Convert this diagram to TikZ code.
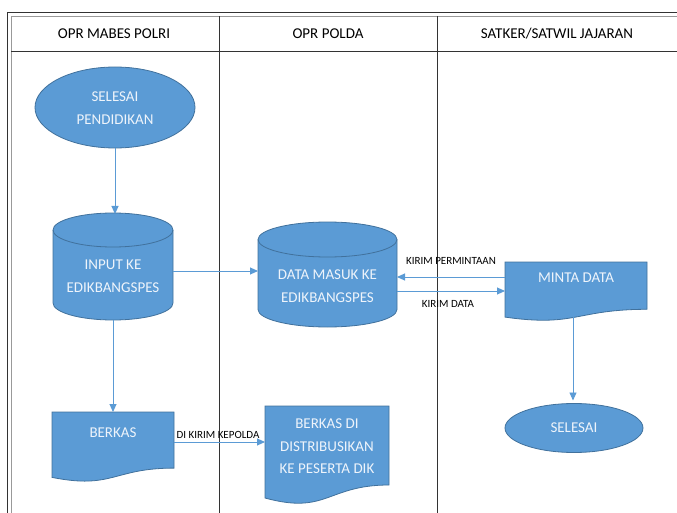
\documentclass[tikz,border=0pt]{standalone}
\usepackage{fontspec}
\setmainfont{Carlito}
\usetikzlibrary{arrows.meta}
\definecolor{nodefill}{HTML}{5B9BD5}
\definecolor{nodeline}{HTML}{41719C}
\definecolor{arrowcol}{HTML}{5B9BD5}
\definecolor{nodetext}{HTML}{EEF4FB}
\tikzset{
  shapefill/.style={fill=nodefill, draw=nodeline, line width=0.8pt},
  holder/.style={draw=none, inner sep=0pt, outer sep=0pt},
  inner/.style={text=nodetext, font=\fontsize{15}{22.5}\selectfont, align=center, inner sep=0pt},
  small/.style={font=\fontsize{11}{13}\selectfont, text=black, inner sep=0pt},
  header/.style={font=\fontsize{15}{18}\selectfont, text=black, inner sep=0pt},
  arr/.style={draw=arrowcol, line width=0.9pt, -{Triangle[length=8pt,width=7pt]}},
  tabline/.style={draw=black!80, line width=0.9pt},
  tabgray/.style={draw=black!40, line width=0.8pt}
}
\begin{document}
\begin{tikzpicture}[x=1pt,y=-1pt]
\useasboundingbox (0,0) rectangle (677,513);
% table
\draw[tabline] (7,513) -- (7,12) -- (677,12);
\draw[tabgray] (11,513) -- (11,16) -- (677,16);
\draw[tabline] (11,51) -- (677,51);
\draw[tabline] (219,16) -- (219,513);
\draw[tabline] (437,16) -- (437,513);
\node[header] (h1) at (114,34) {OPR MABES POLRI};
\node[header] (h2) at (328,34) {OPR POLDA};
\node[header] (h3) at (557,34) {SATKER/SATWIL JAJARAN};

% SELESAI PENDIDIKAN ellipse
\path[shapefill] (115,107.5) ellipse [x radius=80pt, y radius=40.5pt];
\node[holder, minimum width=160pt, minimum height=81pt] (start) at (115,107.5) {};
\node[inner] (starttxt) at (115,108) {SELESAI\\PENDIDIKAN};

% INPUT cylinder
\path[shapefill] (53,230) -- (53,303) arc[start angle=180,end angle=360,x radius=60pt,y radius=17pt]
  -- (173,230) arc[start angle=0,end angle=180,x radius=60pt,y radius=17pt] -- cycle;
\draw[draw=nodeline, line width=0.8pt] (53,230) arc[start angle=180,end angle=360,x radius=60pt,y radius=17pt];
\node[holder, minimum width=120pt, minimum height=107pt] (input) at (113,266.5) {};
\node[inner] (inputtxt) at (113,276) {INPUT KE\\EDIKBANGSPES};

% DATA MASUK cylinder
\path[shapefill] (258,239.5) -- (258,309.5) arc[start angle=180,end angle=360,x radius=69.5pt,y radius=17.5pt]
  -- (397,239.5) arc[start angle=0,end angle=180,x radius=69.5pt,y radius=17.5pt] -- cycle;
\draw[draw=nodeline, line width=0.8pt] (258,239.5) arc[start angle=180,end angle=360,x radius=69.5pt,y radius=17.5pt];
\node[holder, minimum width=139pt, minimum height=105pt] (data) at (327.5,274.5) {};
\node[inner] (datatxt) at (327.5,286) {DATA MASUK KE\\EDIKBANGSPES};

% MINTA DATA document (x 505-647, y 262-321)
\path[shapefill] (505,262) -- (647,262) -- (647,309.3)
  .. controls (576,309.3) and (576,327.3) .. (505,317.1) -- cycle;
\node[holder, minimum width=142pt, minimum height=59pt] (minta) at (576,291.5) {};
\node[inner] (mintatxt) at (576,278) {MINTA DATA};

% SELESAI ellipse
\path[shapefill] (574,428) ellipse [x radius=69pt, y radius=24.5pt];
\node[holder, minimum width=138pt, minimum height=49pt] (end) at (574,428) {};
\node[inner] (endtxt) at (574,428) {SELESAI};

% BERKAS document (x 52-174, y 412-482)
\path[shapefill] (52,412) -- (174,412) -- (174,468.1)
  .. controls (113,468.1) and (113,489.5) .. (52,477.4) -- cycle;
\node[holder, minimum width=122pt, minimum height=70pt] (berkas) at (113,447) {};
\node[inner] (berkastxt) at (113,433) {BERKAS};

% BERKAS DI document (x 265-389, y 406-504.5)
\path[shapefill] (265,406) -- (389,406) -- (389,485)
  .. controls (327,485) and (327,515) .. (265,498) -- cycle;
\node[holder, minimum width=124pt, minimum height=98.5pt] (dist) at (327,455.25) {};
\node[inner] (disttxt) at (327,446.5) {BERKAS DI\\DISTRIBUSIKAN\\KE PESERTA DIK};

% connectors
\draw[arr] (start.south) -- ([yshift=-1pt]input.north -| start.south);
\draw[arr] ([yshift=-4.5pt]input.east) -- ([yshift=-4.5pt]input.east -| data.west);
\draw[arr] ([yshift=14.5pt]minta.west) -- ([yshift=14.5pt]minta.west -| data.east);
\draw[arr] ([yshift=0.5pt]minta.west -| data.east) -- ([yshift=0.5pt]minta.west);
\draw[arr] ([xshift=-3pt,yshift=5pt]minta.south) -- ([xshift=-3pt,yshift=3pt]end.north -| minta.south);
\draw[arr] (input.south) -- (berkas.north);
\draw[arr] ([yshift=5pt]berkas.east) -- ([yshift=5pt]berkas.east -| dist.west);

% labels
\node[small] (lbl1) at (451,261) {KIRIM PERMINTAAN};
\node[small] (lbl2) at (448,304) {KIRIM DATA};
\node[small] (lbl3) at (218,434.5) {DI KIRIM KEPOLDA};
\end{tikzpicture}
\end{document}
